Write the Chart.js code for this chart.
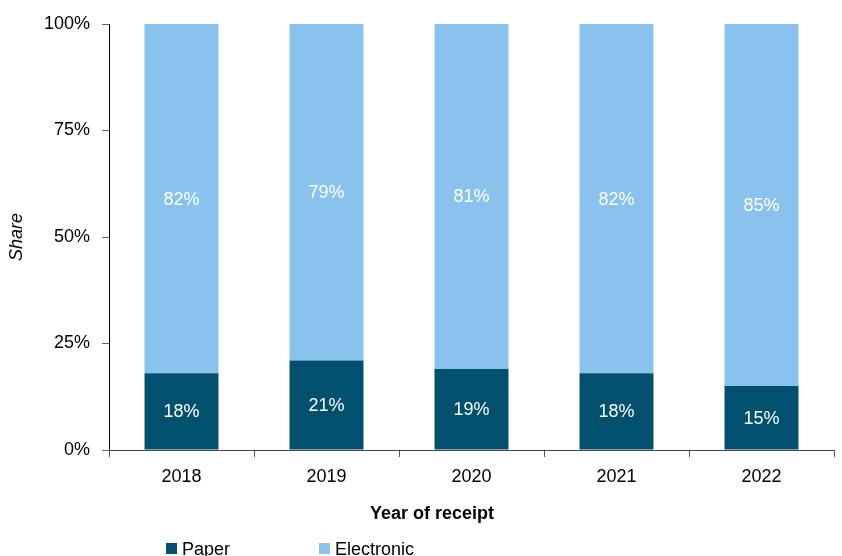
<!DOCTYPE html>
<html>
<head>
<meta charset="utf-8">
<script src="https://cdn.jsdelivr.net/npm/chart.js@4"></script>
<style>
  body { margin: 0; background: #fff; }
  #wrap { width: 842px; height: 556px; position: relative; }
</style>
</head>
<body>
<div id="wrap"><canvas id="shareChart"></canvas></div>
<script>
var years = ["2018", "2019", "2020", "2021", "2022"];
var paper = [18, 21, 19, 18, 15];
var electronic = [82, 79, 81, 82, 85];
var yTicks = [0, 25, 50, 75, 100];

var FONT = "'Liberation Sans', Arial, sans-serif";
var SIZE = 18;

// white % labels in the middle of each bar segment
var segmentLabels = {
  id: 'segmentLabels',
  afterDatasetsDraw: function(chart) {
    var ctx = chart.ctx;
    ctx.save();
    ctx.fillStyle = '#ffffff';
    ctx.font = SIZE + 'px ' + FONT;
    ctx.textAlign = 'center';
    ctx.textBaseline = 'middle';
    chart.data.datasets.forEach(function(ds, i) {
      chart.getDatasetMeta(i).data.forEach(function(bar, j) {
        ctx.fillText(ds.data[j] + '%', bar.x, (bar.y + bar.base) / 2 + 1);
      });
    });
    ctx.restore();
  }
};

// axis title under the years plus the legend row
var bottomText = {
  id: 'bottomText',
  afterDraw: function(chart) {
    var ctx = chart.ctx;
    ctx.save();
    ctx.fillStyle = '#000';
    ctx.font = 'bold ' + SIZE + 'px ' + FONT;
    ctx.textAlign = 'center';
    ctx.textBaseline = 'alphabetic';
    ctx.fillText('Year of receipt', 432, 519);

    var legendX = [166, 319];
    ctx.font = SIZE + 'px ' + FONT;
    ctx.textAlign = 'left';
    chart.data.datasets.forEach(function(ds, i) {
      ctx.fillStyle = ds.backgroundColor;
      ctx.fillRect(legendX[i], 543, 11, 11);
      ctx.fillStyle = '#000';
      ctx.fillText(ds.label, legendX[i] + 16, 555);
    });
    ctx.restore();
  }
};

new Chart(document.getElementById("shareChart"), {
  type: 'bar',
  data: {
    labels: years,
    datasets: [
      {
        label: "Paper",
        data: paper,
        backgroundColor: "#01506e",
        barPercentage: 0.51,
        categoryPercentage: 1
      },
      {
        label: "Electronic",
        data: electronic,
        backgroundColor: "#89c2ec",
        barPercentage: 0.51,
        categoryPercentage: 1
      }
    ]
  },
  plugins: [segmentLabels, bottomText],
  options: {
    responsive: true,
    maintainAspectRatio: false,
    animation: false,
    layout: { padding: { top: 24, right: 8, left: 0, bottom: 0 } },
    plugins: {
      legend: { display: false },
      tooltip: { enabled: false }
    },
    scales: {
      x: {
        stacked: true,
        grid: { drawOnChartArea: false, tickLength: 7, color: '#555' },
        border: { color: '#444', width: 1 },
        ticks: { color: '#000', padding: 9, font: { family: FONT, size: SIZE } },
        afterFit: function(scale) { scale.height = 106; }
      },
      y: {
        stacked: true,
        min: 0,
        max: 100,
        afterBuildTicks: function(scale) {
          scale.ticks = yTicks.map(function(v) { return { value: v }; });
        },
        grid: { drawOnChartArea: false, tickLength: 7, color: '#666' },
        border: { color: '#000', width: 1 },
        ticks: {
          color: '#000',
          padding: 12,
          font: { family: FONT, size: SIZE },
          callback: function(v) { return v + '%'; }
        },
        title: {
          display: true,
          text: 'Share',
          color: '#000',
          padding: { top: 6, bottom: 0 },
          font: { family: FONT, size: SIZE, style: 'italic' }
        },
        afterFit: function(scale) { scale.width = 109; }
      }
    }
  }
});
</script>
</body>
</html>
